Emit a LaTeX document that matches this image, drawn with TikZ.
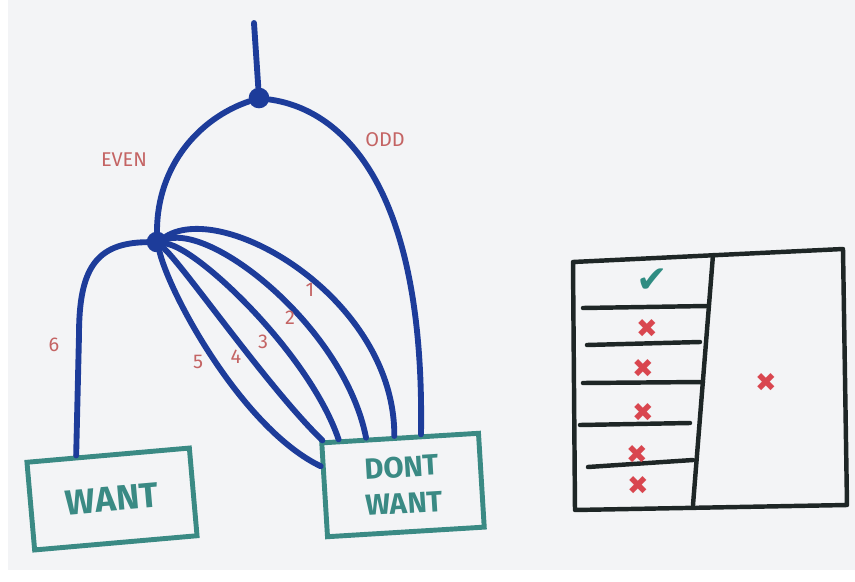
\documentclass[tikz,border=0pt]{standalone}
\usepackage{fontspec}
\setmainfont{Fira Sans}
\newfontfamily\symbolfont{DejaVu Sans}
\usetikzlibrary{calc}
\definecolor{wireblue}{HTML}{1D3C9A}
\definecolor{boxteal}{HTML}{3A8A84}
\definecolor{tickteal}{HTML}{2F8C82}
\definecolor{labelred}{HTML}{C46464}
\definecolor{crossred}{HTML}{D9464F}
\definecolor{inkblack}{HTML}{1E2626}
\definecolor{boardgrey}{HTML}{F3F4F6}

\begin{document}
\begin{tikzpicture}[
    x=0.03cm, y=-0.03cm,
    % ── Node styles ──────────────────────────────────────────────────────
    junction/.style={
        circle, fill=wireblue, minimum size=0.62cm, inner sep=0pt
    },
    bucket/.style={
        draw=boxteal, rectangle, line width=4.2pt,
        text=boxteal, align=center,
        font=\fontsize{30}{30}\selectfont\bfseries
    },
    parity/.style={
        text=labelred, font=\fontsize{17}{20}\selectfont
    },
    countlabel/.style={
        text=labelred, font=\fontsize{17}{20}\selectfont
    },
    tickmark/.style={
        text=tickteal, inner sep=0pt,
        font=\symbolfont\fontsize{32}{32}\selectfont
    },
    crossmark/.style={
        text=crossred, inner sep=0pt,
        font=\symbolfont\fontsize{22}{22}\selectfont
    },
    % ── Line styles ──────────────────────────────────────────────────────
    wire/.style={
        draw=wireblue, line width=5pt, line cap=round
    },
    gridline/.style={
        draw=inkblack, line width=3.8pt, line cap=round, line join=round
    }
]

% ═══════════════════════════════════════════════════════════════════════════
% Board
% ═══════════════════════════════════════════════════════════════════════════
\fill[white] (0,0) rectangle (855,582);
\fill[boardgrey] (8,0) rectangle (855,570);
\useasboundingbox (0,0) rectangle (855,582);

% ═══════════════════════════════════════════════════════════════════════════
% Tree
% ═══════════════════════════════════════════════════════════════════════════
\coordinate (stem) at (254,23);
\node[junction] (top) at (259,98) {};
\node[junction] (split) at (157,242) {};

% Boxes
\node[bucket, minimum width=4.89cm, minimum height=2.64cm, rotate=5]
    (want) at (112,499) {WANT};
\node[bucket, minimum width=4.71cm, minimum height=2.82cm, rotate=3.5,
      font=\fontsize{25}{31}\selectfont\bfseries]
    (dontwant) at (403,485) {DONT\\WANT};

% Where the wires meet the boxes
\coordinate (wantin) at ($(want.north west)!0.31!(want.north east)$);
\coordinate (dwodd)  at ($(dontwant.north west)!0.63!(dontwant.north east)$);
\coordinate (dwone)  at ($(dontwant.north west)!0.465!(dontwant.north east)$);
\coordinate (dwtwo)  at ($(dontwant.north west)!0.29!(dontwant.north east)$);
\coordinate (dwthree) at ($(dontwant.north west)!0.12!(dontwant.north east)$);
\coordinate (dwfour) at ($(dontwant.north west)!0.02!(dontwant.north east)$);
\coordinate (dwfive) at ($(dontwant.north west)!0.26!(dontwant.south west)$);

% Wires
\draw[wire] (stem) -- (top);
\draw[wire] (top) .. controls (200,118) and (157,165) .. (split);
\draw[wire] (top) .. controls (345,110) and (425,190) .. (dwodd);
\draw[wire] (split) .. controls (95,243) and (79,270) .. (79,335) -- (wantin);
\draw[wire] (split) .. controls (225,200) and (395,300) .. (dwone);
\draw[wire] (split) .. controls (215,225) and (345,330) .. (dwtwo);
\draw[wire] (split) .. controls (200,250) and (310,355) .. (dwthree);
\draw[wire] (split) .. controls (185,268) and (270,390) .. (dwfour);
\draw[wire] (split) .. controls (172,300) and (245,430) .. (dwfive);

% Labels
\node[parity] (even) at (124,160) {EVEN};
\node[parity] (odd) at (385,140) {ODD};
\node[countlabel] (one) at (310,290) {1};
\node[countlabel] (two) at (290,318) {2};
\node[countlabel] (three) at (263,342) {3};
\node[countlabel] (four) at (236,357) {4};
\node[countlabel] (five) at (198,362) {5};
\node[countlabel] (six) at (54,345) {6};

% ═══════════════════════════════════════════════════════════════════════════
% Table
% ═══════════════════════════════════════════════════════════════════════════
\draw[gridline] (573,262) -- (843,249) -- (847,505) -- (575,510) -- cycle;
\draw[gridline] (713,255) -- (693,505);
\draw[gridline] (583,308) -- (707,306);
\draw[gridline] (587,345) -- (700,342);
\draw[gridline] (583,383) -- (703,382);
\draw[gridline] (580,425) -- (690,423);
\draw[gridline] (588,467) -- (693,460);

\node[tickmark] (tick) at (652,281) {✔};
\node[crossmark] (crossa) at (647,328) {✖};
\node[crossmark] (crossb) at (643,368) {✖};
\node[crossmark] (crossc) at (643,412) {✖};
\node[crossmark] (crossd) at (637,454) {✖};
\node[crossmark] (crosse) at (638,485) {✖};
\node[crossmark] (crossf) at (766,382) {✖};

\end{tikzpicture}
\end{document}
